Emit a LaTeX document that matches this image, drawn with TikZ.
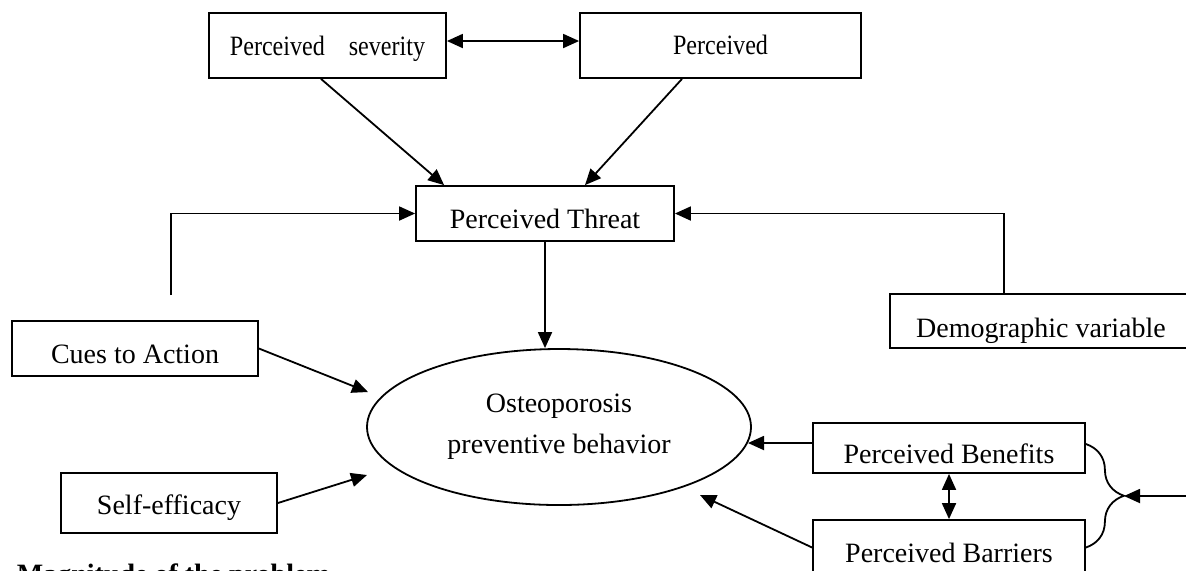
\documentclass[tikz,border=0pt]{standalone}
\usepackage{fontspec}
\setmainfont{Liberation Serif}
\newfontfamily\narrowserif[FakeStretch=0.86]{Liberation Serif}
\usetikzlibrary{calc,arrows.meta,shapes.geometric,decorations.pathreplacing}

\begin{document}
\begin{tikzpicture}[x=0.5pt,y=-0.5pt,line width=0.9pt,>={Triangle[length=8pt,width=7pt]},font=\fontsize{14}{20.5}\selectfont]

\tikzset{boxnode/.style={draw,inner sep=0pt,text depth=0pt,text height=#1},boxnode/.default=9.5pt,
narrowtext/.style={font=\fontsize{14}{16}\narrowserif},
ovalnode/.style={draw,shape=ellipse,inner sep=0pt,align=center,minimum width=192pt,minimum height=78pt}}

\path[use as bounding box,clip] (0,0) rectangle (1186,570);

% top constructs
\node[boxnode,narrowtext,minimum width=118.5pt,minimum height=32.5pt] (sev) at (327.5,45.5) {Perceived\hspace{12pt}severity};
\node[boxnode=9pt,narrowtext,minimum width=140.5pt,minimum height=32.5pt] (susc) at (720.5,45.5) {Perceived};
\node[boxnode=14.5pt,minimum width=129pt,minimum height=27.5pt] (threat) at (545,213.5) {Perceived Threat};

% left side
\node[boxnode=14.5pt,minimum width=123pt,minimum height=27.5pt] (cues) at (135,348.5) {Cues to Action};
\node[boxnode=11pt,minimum width=108pt,minimum height=30pt] (self) at (169,503) {Self-efficacy};

% right side
\node[boxnode=16pt,minimum width=151pt,minimum height=27pt] (demo) at (1041,321) {Demographic variable};
\node[boxnode=15pt,minimum width=136pt,minimum height=25pt] (benef) at (949,448) {Perceived Benefits};
\node[boxnode=14.5pt,minimum width=136pt,minimum height=27.5pt] (barr) at (949,547.5) {Perceived Barriers};

% behaviour
\node[ovalnode] (osteo) at (559,427) {Osteoporosis\\preventive behavior};

\node[font=\fontsize{14}{16}\selectfont\bfseries,anchor=base west,inner sep=0pt] (magn) at (16,583) {Magnitude of the problem};

% free ends
\coordinate (cuesup) at (171,295);
\coordinate (bracetip) at (1124,496);
\coordinate (magnin) at (1186,496);

% Edges
\draw[<->] ([yshift=2.25pt]sev.east) -- ([yshift=2.25pt]susc.west);
\draw[->] ([xshift=-3.25pt]sev.south) -- ([xshift=14.5pt]threat.north west);
\draw[->] ([xshift=-19.25pt]susc.south) -- ([xshift=20pt]threat.north);
\draw[->] (cuesup) |- (threat.west);
\draw[->] ([xshift=-18.5pt]demo.north) |- (threat.east);
\draw[->] (threat.south) -- (threat.south |- osteo.north);
\draw[->] (cues.east) -- ($(osteo.center)+(-191,-35)$);
\draw[->] (self.east) -- ($(osteo.center)+(-192,48)$);
\draw[->] ([yshift=2.5pt]benef.west) -- ($(osteo.center)+(189,16)$);
\draw[->] (barr.west) -- ($(osteo.center)+(141,68)$);
\draw[<->] (benef.south) -- (barr.north);
\draw[decorate,decoration={brace,amplitude=19pt}] ([yshift=2pt]benef.east) -- (barr.east);
\draw[->] (magnin) -- (bracetip);

\end{tikzpicture}
\end{document}
